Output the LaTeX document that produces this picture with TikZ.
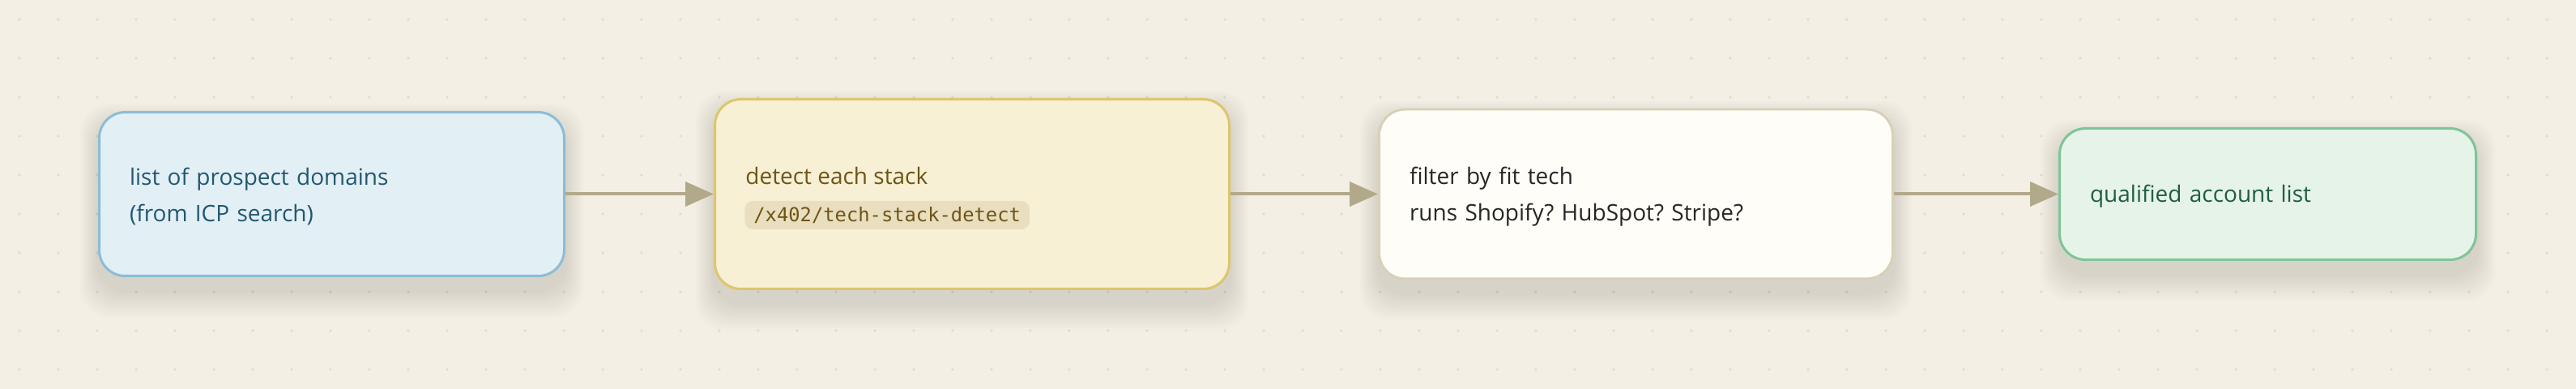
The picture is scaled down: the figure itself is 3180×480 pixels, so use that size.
\documentclass[tikz,border=0pt]{standalone}
\usepackage{fontspec}
\setmainfont{Open Sans}
\newfontfamily\codefont{DejaVu Sans Mono}
\usetikzlibrary{arrows.meta}
\frenchspacing
\definecolor{bgc}{HTML}{F3EFE5}
\definecolor{dotc}{HTML}{E2DCCF}
\definecolor{arrowc}{HTML}{B2A98A}
\definecolor{shadowc}{HTML}{6B5A3A}
\definecolor{bluefill}{HTML}{E2EFF5}
\definecolor{blueline}{HTML}{8BBDD6}
\definecolor{bluetext}{HTML}{215870}
\definecolor{yellowfill}{HTML}{F7F0D4}
\definecolor{yellowline}{HTML}{DCC66E}
\definecolor{yellowtext}{HTML}{6E5417}
\definecolor{chipfill}{HTML}{E9DFBF}
\definecolor{whitefill}{HTML}{FEFDF7}
\definecolor{whiteline}{HTML}{D8D0B8}
\definecolor{whitetext}{HTML}{262626}
\definecolor{greenfill}{HTML}{E6F3E8}
\definecolor{greenline}{HTML}{7FC49A}
\definecolor{greentext}{HTML}{1F5E3F}
\pgfdeclarelayer{background}
\pgfsetlayers{background,main}
\tikzset{
  mainfont/.style={font=\fontsize{14}{22.5}\selectfont},
  box/.style={rectangle, rounded corners=16pt, line width=1.5pt, align=left,
    inner xsep=18.75pt, mainfont, execute at begin node={\rule{0pt}{13.6pt}}},
  flow/.style={draw=arrowc, line width=2pt, -{Triangle[length=17.5pt,width=15pt]}},
  chip/.style={fill=chipfill, rounded corners=5pt, inner xsep=5.5pt, inner ysep=0pt,
    minimum height=17.5pt, text=yellowtext, font=\codefont\fontsize{11.9}{14}\selectfont},
}
\begin{document}
\begin{tikzpicture}[x=0.5pt,y=-0.5pt]
\useasboundingbox (0,0) rectangle (3180,480);
% boxes
\node[box, draw=blueline, fill=bluefill, text=bluetext, minimum width=287pt, minimum height=101pt,
  text width=249.5pt] (src) at (409.5,239.5)
  {list of prospect domains\\(from ICP search)};
\node[rectangle, rounded corners=16pt, line width=1.5pt, draw=yellowline, fill=yellowfill,
  minimum width=317.5pt, minimum height=117pt] (detect) at (1200,239.5) {};
\node[anchor=base west, inner sep=0pt, text=yellowtext, mainfont] (detectlabel) at (920,228) {detect each stack};
\node[chip, anchor=west] (detectcode) at (919,265.5) {/x402/tech-stack-detect};
\node[box, draw=whiteline, fill=whitefill, text=whitetext, minimum width=317pt, minimum height=104.5pt,
  text width=279.5pt] (filter) at (2019.5,239.5)
  {filter by fit tech\\runs Shopify? HubSpot? Stripe?};
\node[box, draw=greenline, fill=greenfill, text=greentext, minimum width=257pt, minimum height=81pt,
  text width=219.5pt] (out) at (2799.5,239.5)
  {qualified account list};
% connectors
\draw[flow] (src.east) -- (detect.west);
\draw[flow] (detect.east) -- (filter.west);
\draw[flow] (filter.east) -- (out.west);
% background, dots, shadows
\begin{pgfonlayer}{background}
\fill[bgc] (0,0) rectangle (3180,480);
\foreach \x in {24,72,...,3180} \foreach \y in {24,72,...,456} \fill[dotc] (\x,\y) circle (0.9pt);
\foreach \b in {src,detect,filter,out} {
  \foreach \k in {1,...,14} {
    \fill[shadowc, opacity=0.011, rounded corners=18pt]
      ([xshift=-\k*0.8pt, yshift=-8pt-\k*1.2pt]\b.south west) rectangle
      ([xshift=\k*0.8pt, yshift=-8pt+\k*0.9pt]\b.north east);
  }
}
\end{pgfonlayer}
\end{tikzpicture}
\end{document}
